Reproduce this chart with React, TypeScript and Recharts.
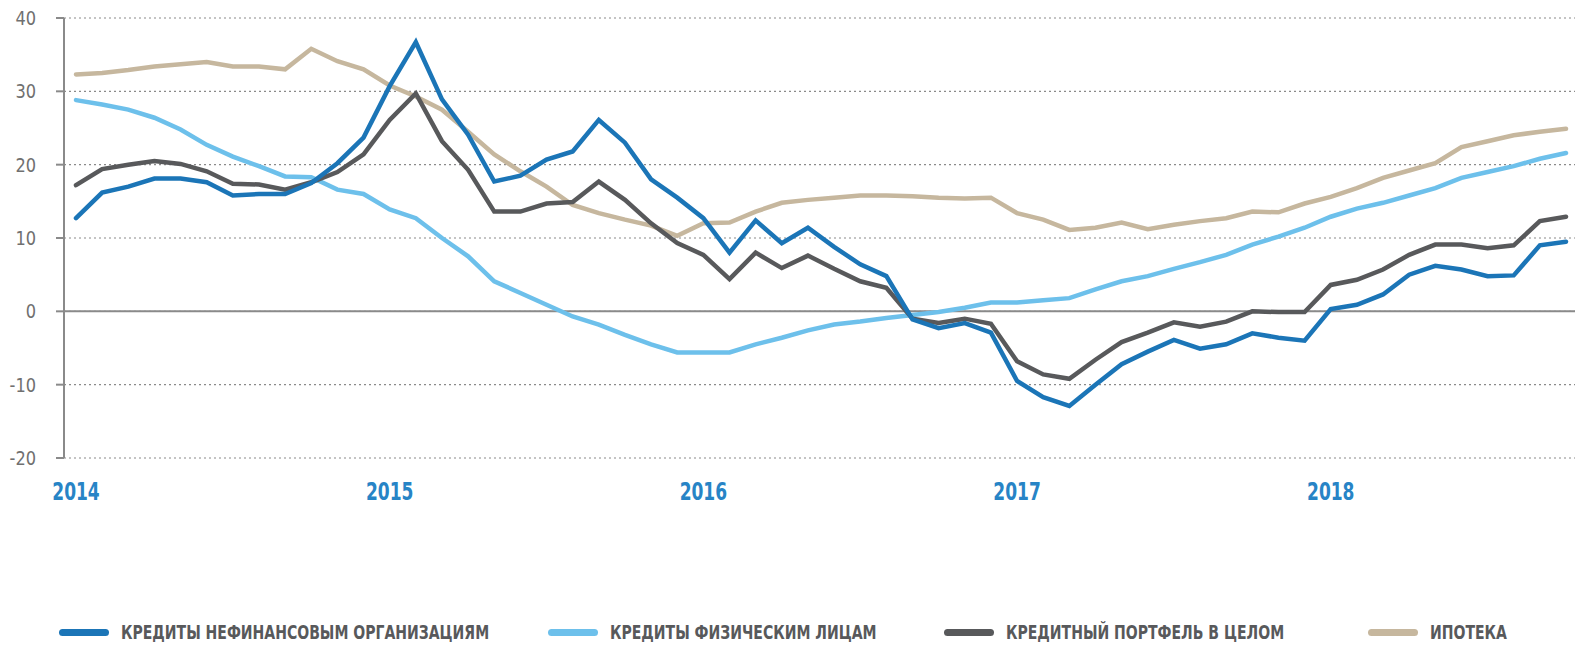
import { LineChart, Line, XAxis, YAxis, CartesianGrid, ReferenceLine } from "recharts";

document.body.style.margin = "0";

const FONT = '"Liberation Sans Narrow", "DejaVu Sans Condensed", "Roboto", sans-serif';

// monthly points, Jan 2014 .. Oct 2018
const MONTHS = [
  "01.2014", "02.2014", "03.2014", "04.2014", "05.2014", "06.2014", "07.2014", "08.2014", "09.2014", "10.2014", "11.2014", "12.2014",
  "01.2015", "02.2015", "03.2015", "04.2015", "05.2015", "06.2015", "07.2015", "08.2015", "09.2015", "10.2015", "11.2015", "12.2015",
  "01.2016", "02.2016", "03.2016", "04.2016", "05.2016", "06.2016", "07.2016", "08.2016", "09.2016", "10.2016", "11.2016", "12.2016",
  "01.2017", "02.2017", "03.2017", "04.2017", "05.2017", "06.2017", "07.2017", "08.2017", "09.2017", "10.2017", "11.2017", "12.2017",
  "01.2018", "02.2018", "03.2018", "04.2018", "05.2018", "06.2018", "07.2018", "08.2018", "09.2018", "10.2018",
];

const CORPORATE = [
  12.7, 16.2, 17.0, 18.1, 18.1, 17.6, 15.8, 16.0, 16.0, 17.5, 20.2, 23.7,
  30.7, 36.7, 28.9, 24.1, 17.7, 18.5, 20.7, 21.8, 26.1, 23.0, 18.0, 15.5,
  12.7, 8.0, 12.4, 9.3, 11.4, 8.8, 6.4, 4.8, -1.1, -2.3, -1.6, -2.9,
  -9.5, -11.7, -12.9, -10.0, -7.2, -5.5, -3.9, -5.1, -4.5, -3.0, -3.6, -4.0,
  0.3, 0.9, 2.3, 5.0, 6.2, 5.7, 4.8, 4.9, 9.0, 9.5,
];

const RETAIL = [
  28.8, 28.2, 27.5, 26.4, 24.8, 22.7, 21.1, 19.8, 18.4, 18.3, 16.6, 16.0,
  13.9, 12.7, 10.0, 7.5, 4.1, 2.5, 0.9, -0.7, -1.8, -3.2, -4.5, -5.6,
  -5.6, -5.6, -4.5, -3.6, -2.6, -1.8, -1.4, -0.9, -0.5, -0.1, 0.5, 1.2,
  1.2, 1.5, 1.8, 3.0, 4.1, 4.8, 5.8, 6.7, 7.7, 9.1, 10.2, 11.4,
  12.9, 14.0, 14.8, 15.8, 16.8, 18.2, 19.0, 19.8, 20.8, 21.6,
];

const TOTAL = [
  17.2, 19.4, 20.0, 20.5, 20.1, 19.1, 17.4, 17.3, 16.6, 17.6, 19.0, 21.4,
  26.1, 29.7, 23.2, 19.3, 13.6, 13.6, 14.7, 14.9, 17.7, 15.2, 12.0, 9.3,
  7.7, 4.4, 8.0, 5.9, 7.6, 5.8, 4.1, 3.2, -1.0, -1.6, -1.0, -1.7,
  -6.8, -8.6, -9.2, -6.6, -4.2, -2.9, -1.5, -2.1, -1.4, 0.0, -0.1, -0.1,
  3.6, 4.3, 5.7, 7.7, 9.1, 9.1, 8.6, 9.0, 12.3, 12.9,
];

const MORTGAGE = [
  32.3, 32.5, 32.9, 33.4, 33.7, 34.0, 33.4, 33.4, 33.0, 35.8, 34.1, 33.0,
  30.8, 29.3, 27.5, 24.5, 21.4, 19.1, 17.0, 14.5, 13.4, 12.5, 11.7, 10.3,
  12.0, 12.1, 13.6, 14.8, 15.2, 15.5, 15.8, 15.8, 15.7, 15.5, 15.4, 15.5,
  13.4, 12.5, 11.1, 11.4, 12.1, 11.2, 11.8, 12.3, 12.7, 13.6, 13.5, 14.7,
  15.6, 16.8, 18.2, 19.2, 20.2, 22.4, 23.2, 24.0, 24.5, 24.9,
];

const Y_TICKS = [-20, -10, 0, 10, 20, 30, 40];

const SERIES = [
  { key: "corporate", name: "КРЕДИТЫ НЕФИНАНСОВЫМ ОРГАНИЗАЦИЯМ", color: "#1b75b7", values: CORPORATE },
  { key: "retail", name: "КРЕДИТЫ ФИЗИЧЕСКИМ ЛИЦАМ", color: "#6dc0eb", values: RETAIL },
  { key: "total", name: "КРЕДИТНЫЙ ПОРТФЕЛЬ В ЦЕЛОМ", color: "#58595b", values: TOTAL },
  { key: "mortgage", name: "ИПОТЕКА", color: "#c6b79e", values: MORTGAGE },
];

// legend item left edges, px
const LEGEND_X = [59, 548, 944, 1368];

const DRAW_ORDER = ["retail", "mortgage", "total", "corporate"];

const data = MONTHS.map((m, i) => {
  const row: Record<string, string | number> = { month: m };
  for (const s of SERIES) row[s.key] = s.values[i];
  return row;
});

function YearTick(props: any) {
  const { x, y, payload } = props;
  const v: string = payload.value;
  if (!v.startsWith("01.")) return null;
  return (
    <text
      transform={`translate(${x},${y + 34}) scale(0.79,1)`}
      textAnchor="middle"
      fill="#2784c6"
      fontFamily={FONT}
      fontWeight="bold"
      fontSize={24}
    >
      {v.slice(3)}
    </text>
  );
}

function ValueTick(props: any) {
  const { x, y, payload } = props;
  return (
    <text
      transform={`translate(${x},${y + 7}) scale(0.9,1)`}
      textAnchor="end"
      fill="#707070"
      fontFamily={FONT}
      fontSize={20}
    >
      {payload.value}
    </text>
  );
}

function LegendRow() {
  return (
    <>
      {SERIES.map((s, i) => (
        <div
          key={s.key}
          style={{
            position: "absolute",
            left: LEGEND_X[i],
            top: 620,
            display: "flex",
            alignItems: "center",
            fontFamily: FONT,
            fontWeight: "bold",
            fontSize: 20,
            color: "#58595b",
            whiteSpace: "nowrap",
          }}
        >
          <span
            style={{
              display: "inline-block",
              width: 50,
              height: 7,
              borderRadius: 4,
              background: s.color,
              marginRight: 12,
            }}
          />
          <span style={{ display: "inline-block", transform: "scaleX(0.78)", transformOrigin: "left center" }}>
            {s.name}
          </span>
        </div>
      ))}
    </>
  );
}

export default function App() {
  return (
    <div style={{ position: "relative", width: 1583, height: 645, background: "#fff" }}>
      <LineChart
        width={1583}
        height={645}
        data={data}
        margin={{ top: 18, right: 8, bottom: 147, left: 0 }}
      >
        <CartesianGrid
          vertical={false}
          stroke="#8a8a8a"
          strokeDasharray="2 3"
          strokeWidth={1.2}
        />
        <ReferenceLine y={0} stroke="#8a8a8a" strokeWidth={2} />
        <XAxis
          dataKey="month"
          interval={0}
          axisLine={false}
          tickLine={false}
          height={40}
          padding={{ left: 12, right: 9 }}
          tick={<YearTick />}
        />
        <YAxis
          width={64}
          domain={[-20, 40]}
          ticks={Y_TICKS}
          interval={0}
          axisLine={{ stroke: "#8a8a8a", strokeWidth: 2 }}
          tickLine={{ stroke: "#8a8a8a", strokeWidth: 2 }}
          tickSize={8}
          tickMargin={20}
          tick={<ValueTick />}
        />
        {DRAW_ORDER.map((k) => {
          const s = SERIES.find((x) => x.key === k)!;
          return (
            <Line
              key={s.key}
              dataKey={s.key}
              name={s.name}
              stroke={s.color}
              strokeWidth={4.5}
              strokeLinecap="round"
              dot={false}
              activeDot={false}
              isAnimationActive={false}
            />
          );
        })}
      </LineChart>
      <LegendRow />
    </div>
  );
}
